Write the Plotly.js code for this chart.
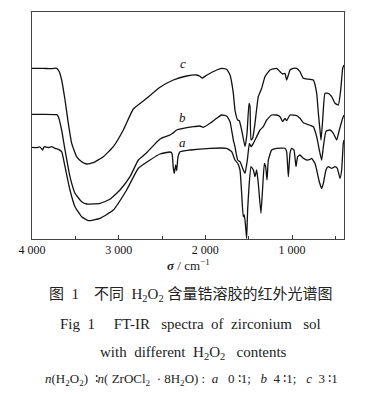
<!DOCTYPE html>
<html><head><meta charset="utf-8">
<script src="https://cdn.plot.ly/plotly-3.0.1.min.js"></script>
<style>html,body{margin:0;padding:0;background:#fff;}#chart{width:390px;height:403px;}</style>
</head><body><div id="chart"></div>
<script>
// wavenumber (cm^-1) and relative transmittance (arbitrary units, offset curves)
const wnA = [4000,3946,3908,3877,3862,3812,3773,3735,3696,3658,3619,3562,3504,3427,3350,3215,3062,2908,2773,2638,2523,2408,2385,2369,2358,2342,2331,2315,2292,2177,1946,1754,1696,1658,1627,1600,1581,1562,1550,1535,1523,1512,1496,1473,1446,1427,1408,1389,1358,1338,1319,1304,1288,1273,1235,1177,1081,1062,1042,1023,1004,977,954,935,908,869,831,792,773,735,715,685,658,638,608,581,542,504,477,446,427,408,400];
const tA  = [91.7,91.3,92,89,92.3,91.3,92.3,90.7,89.7,87.3,72.3,49,32.3,22.3,18.3,20.7,29,49,70.7,79,85,87,85.7,70.7,65.7,74,68.3,82.3,87.3,89,90.7,90.7,87.3,79,75.7,69,45.7,22.3,24,12.3,0.5,29,52.3,72.3,69,62.3,69,55.7,25.7,52.3,75.7,72.3,59,79,89,90.7,90.7,87.3,62.3,85.7,90.7,89,72.3,82.3,84,80.7,79,79.7,80.7,75.7,69,57.3,50.7,55.7,69,72.3,70.7,72.3,70.7,60.7,69,95.7,99];

const wnB = [4000,3869,3715,3696,3658,3619,3562,3504,3427,3369,3215,3100,2985,2869,2773,2677,2523,2408,2377,2331,2138,2062,2023,1946,1869,1812,1754,1715,1677,1658,1627,1600,1562,1542,1515,1492,1473,1446,1408,1369,1331,1292,1235,1177,1138,1108,1081,1062,1023,946,908,869,754,715,685,658,638,608,562,523,485,454,415,400];
const tB  = [124.7,124.7,124.3,122.3,109,89,62.3,45.7,37.3,35,35.7,39.7,49,62.3,79,86.3,100,104,105.7,109,112.3,113,111.7,115.7,120.7,124,123,117.3,99,92.3,79,77.3,69,65.7,79,95.7,92.3,95.7,102.3,109,112.3,119,124,124,122.3,117.3,120.7,118.3,124,123.3,120.7,116.3,112.3,102.3,89,79,92.3,107.7,109,105.7,99,109,120.7,124];

const wnC = [4000,3869,3792,3715,3685,3658,3619,3581,3542,3485,3427,3369,3292,3177,3062,2946,2831,2677,2523,2369,2215,2100,2062,2035,1985,1869,1812,1754,1715,1677,1658,1627,1608,1581,1542,1519,1496,1485,1473,1454,1427,1389,1350,1312,1254,1177,1138,1108,1081,1062,1042,1023,985,946,908,869,754,715,696,677,665,646,619,581,542,504,465,438,415,400];
const tC  = [170.7,170.7,170.3,170.7,167.3,159,139,115.7,95.7,82.3,77.3,75,76.3,82.3,92.3,109,130,140.7,151.7,159,163,164,162.7,161,163.7,169,170.7,169.7,164,145.7,129,119,118.3,109,92.3,105.7,135.7,133,99,100.7,115.7,142.3,150.7,162.3,169,170.7,167.3,165,165.7,159,164,169,170.7,170.7,167.3,160.7,159,145.7,125.7,109,99,119,145.7,145.7,142.3,135.7,134,149,170.7,174];

const seriesNames = ['a','b','c'];
const labelPos = [[2258,97],[2258,122],[2258,176]]; // label anchor (wavenumber, value)
const tickVals = [4000,3000,2000,1000];
const tickText = ['4 000','3 000','2 000','1 000'];
const minorVals = [3500,2500,1500,500];

const line = {color:'#111', width:1.3, shape:'spline', smoothing:0.4};
const data = [
  {x:wnA, y:tA, mode:'lines', line:line, name:'a', hoverinfo:'skip'},
  {x:wnB, y:tB, mode:'lines', line:line, name:'b', hoverinfo:'skip'},
  {x:wnC, y:tC, mode:'lines', line:line, name:'c', hoverinfo:'skip'}
];

const T = 239, H = 227, L = 32, W = 312;
const py = p => (T - p) / H;
const px = p => (p - L) / W;
const serif = 'Liberation Serif';
const cjk = 'Liberation Serif, Noto Sans CJK SC';

const ann = seriesNames.map((n,i)=>({x:labelPos[i][0], y:labelPos[i][1], xref:'x', yref:'y', xanchor:'center', yanchor:'middle', text:'<i>'+n+'</i>', showarrow:false, font:{family:serif, size:13, color:'#111'}}));
const cap = (x, y, text, family, size) => ({x:px(x), y:py(y), xref:'paper', yref:'paper', xanchor:'center', yanchor:'middle', text:text, showarrow:false, font:{family:family, size:size, color:'#222'}});
ann.push(
  cap(188, 265, '<b><i>σ</i></b> / cm<sup>−1</sup>', serif, 13),
  cap(190, 295, '图  1    不同  H<sub>2</sub>O<sub>2</sub> 含量锆溶胶的红外光谱图', cjk, 15),
  cap(190, 324, 'Fig  1     FT-IR   spectra  of  zirconium   sol', serif, 15),
  cap(193, 353, 'with  different  H<sub>2</sub>O<sub>2</sub>   contents', serif, 15),
  cap(191, 379, '<i>n</i>(H<sub>2</sub>O<sub>2</sub>)  ∶<i>n</i>( ZrOCl<sub>2</sub>  · 8H<sub>2</sub>O) :  <i>a</i>   0 ∶1;   <i>b</i>  4 ∶1;   <i>c</i>  3 ∶1', serif, 13)
);

const layout = {
  width:390, height:403,
  margin:{l:32, r:46, t:12, b:164},
  paper_bgcolor:'#fff', plot_bgcolor:'#fff',
  showlegend:false,
  xaxis:{range:[4000,400], tickmode:'array', tickvals:tickVals, ticktext:tickText,
    ticks:'inside', ticklen:4, tickcolor:'#333', showline:true, linecolor:'#444', linewidth:1, mirror:true,
    showgrid:false, zeroline:false, tickfont:{family:serif,size:12,color:'#111'},
    minor:{tickmode:'array', tickvals:minorVals, ticks:'inside', ticklen:3, tickcolor:'#333', showgrid:false}},
  yaxis:{range:[0,227], showticklabels:false, ticks:'', showline:true, linecolor:'#444', linewidth:1, mirror:true, showgrid:false, zeroline:false},
  annotations:ann
};
Plotly.newPlot('chart', data, layout, {staticPlot:true, displayModeBar:false});
</script></body></html>
